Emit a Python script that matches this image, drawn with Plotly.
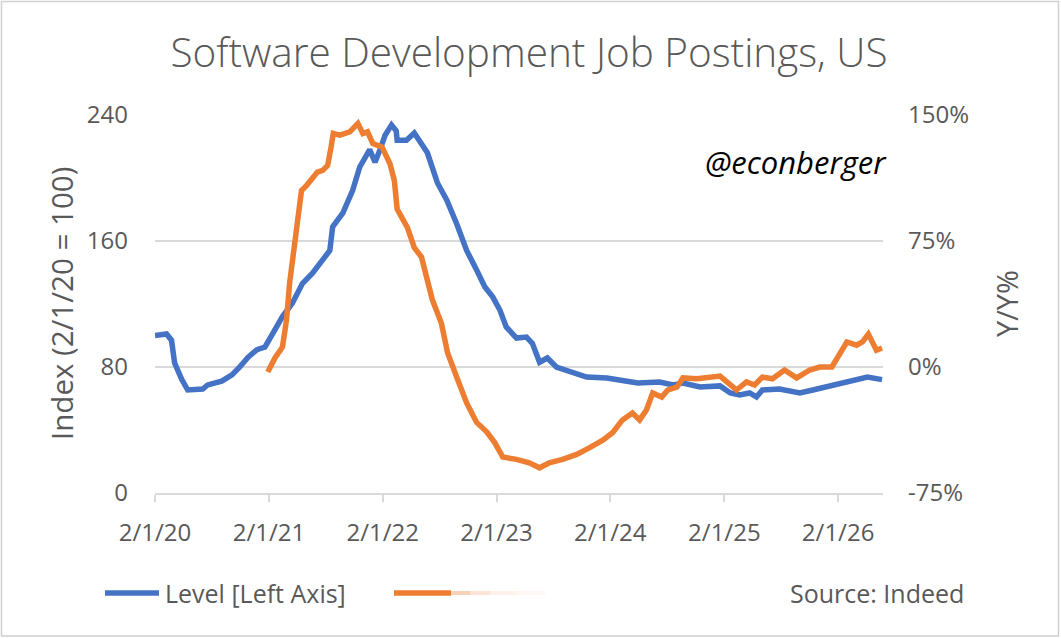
import plotly.graph_objects as go

# ---------------- data ----------------
level_dates = ["2020-02-01", "2020-03-09", "2020-03-25", "2020-04-04", "2020-04-27", "2020-05-16",
               "2020-07-03", "2020-07-19", "2020-09-02", "2020-10-05", "2020-10-30", "2020-11-25",
               "2020-12-24", "2021-01-19", "2021-02-14", "2021-03-16", "2021-04-17", "2021-05-19",
               "2021-06-21", "2021-07-23", "2021-08-15", "2021-08-24", "2021-09-26", "2021-10-27",
               "2021-11-19", "2021-12-21", "2022-01-07", "2022-01-23", "2022-02-08", "2022-03-01",
               "2022-03-16", "2022-03-19", "2022-04-18", "2022-05-13", "2022-06-05", "2022-06-24",
               "2022-07-26", "2022-08-25", "2022-09-26", "2022-10-28", "2022-11-29", "2022-12-25",
               "2023-01-20", "2023-02-12", "2023-03-04", "2023-04-06", "2023-05-08", "2023-05-27",
               "2023-06-19", "2023-07-14", "2023-08-12", "2023-09-24", "2023-11-17", "2024-01-21",
               "2024-03-11", "2024-04-29", "2024-07-08", "2024-08-20", "2024-09-21", "2024-11-15",
               "2025-01-18", "2025-02-20", "2025-03-22", "2025-04-23", "2025-05-15", "2025-06-03",
               "2025-07-28", "2025-08-30", "2025-10-01", "2025-11-12", "2025-12-27", "2026-02-07",
               "2026-03-19", "2026-05-06", "2026-06-22"]
level_values = [100, 101, 97, 82.5, 72, 65.4,
                66, 68.6, 71, 75, 80, 86,
                91, 92.7, 101.6, 112, 120.6, 133,
                139.7, 148, 154, 169, 177.8, 192,
                207, 218, 210, 218, 227, 233.7,
                230, 224, 224, 228.6, 222, 216,
                197, 186, 171, 154, 141.6, 131,
                124.4, 116, 105.4, 98.4, 99, 95,
                83, 85.7, 80, 76.8, 73.6, 73,
                71, 69.8, 70.5, 68.6, 69.8, 67.3,
                68, 63.5, 62.2, 63.5, 61, 65.4,
                66, 64.8, 63.5, 65.4, 67.3, 69.8,
                71, 73.6, 72.0]

yoy_dates = ["2021-01-28", "2021-02-20", "2021-03-16", "2021-03-29", "2021-04-08", "2021-04-24",
             "2021-05-06", "2021-05-16", "2021-06-01", "2021-06-21", "2021-07-06", "2021-07-23",
             "2021-08-08", "2021-08-19", "2021-08-26", "2021-09-16", "2021-10-18", "2021-11-13",
             "2021-11-29", "2021-12-14", "2021-12-31", "2022-01-29", "2022-02-24", "2022-03-10",
             "2022-03-19", "2022-04-21", "2022-05-13", "2022-06-05", "2022-06-21", "2022-07-10",
             "2022-08-08", "2022-08-28", "2022-09-26", "2022-10-28", "2022-11-29", "2023-01-01",
             "2023-01-26", "2023-02-21", "2023-04-06", "2023-05-17", "2023-06-19", "2023-07-20",
             "2023-09-01", "2023-10-16", "2023-11-27", "2024-01-08", "2024-02-09", "2024-03-11",
             "2024-04-12", "2024-04-29", "2024-05-05", "2024-05-27", "2024-06-16", "2024-07-15",
             "2024-08-03", "2024-09-02", "2024-09-21", "2024-11-05", "2024-12-07", "2025-01-18",
             "2025-02-13", "2025-03-12", "2025-04-13", "2025-05-09", "2025-06-03", "2025-07-05",
             "2025-08-13", "2025-09-21", "2025-11-02", "2025-12-04", "2026-01-12", "2026-02-07",
             "2026-03-01", "2026-04-01", "2026-04-20", "2026-05-09", "2026-06-04", "2026-06-22"]
yoy_values = [-3, 5.4, 11.9, 28, 50, 74,
              93.5, 105, 108, 113, 116, 117,
              120, 131, 139, 138, 140, 145,
              139, 140, 133, 131, 121, 111,
              94, 83, 71, 65.5, 53.6, 40,
              26, 8.3, -6, -21.4, -33, -38.7,
              -45, -53.6, -55, -57, -60, -57,
              -55, -52, -48, -43.5, -39, -31.5,
              -27.4, -30, -31.5, -25.6, -15.5, -17.9,
              -13.7, -11.9, -6.5, -7, -6.5, -5.4,
              -9.5, -13.7, -8.9, -10.7, -6, -7,
              -1.8, -6.5, -1.8, 0, 0, 8.3,
              14.9, 13, 15, 19.6, 10, 11.3]

tick_dates = ["2020-02-01", "2021-02-01", "2022-02-01", "2023-02-01",
              "2024-02-01", "2025-02-01", "2026-02-01"]
tick_labels = ["2/1/20", "2/1/21", "2/1/22", "2/1/23", "2/1/24", "2/1/25", "2/1/26"]
left_ticks = [0, 80, 160, 240]
right_ticks = [-75, 0, 75, 150]
right_labels = ["-75%", "0%", "75%", "150%"]

BLUE = "#4472C4"
ORANGE = "#ED7D31"
GREY = "#595959"
GRID = "#D9D9D9"
FONT = "Open Sans"

fig = go.Figure()
fig.add_trace(go.Scatter(x=level_dates, y=level_values, mode="lines",
                         name="Level [Left Axis]", line=dict(color=BLUE, width=5.5),
                         yaxis="y"))
fig.add_trace(go.Scatter(x=yoy_dates, y=yoy_values, mode="lines",
                         name="Y/Y%", line=dict(color=ORANGE, width=5.5),
                         yaxis="y2"))

# plot area in pixels: x 155..883, y 115..493 (figure 1061x638)
L, R, T, B = 155, 883, 115, 493
W, H = R - L, B - T


def px(x):
    return (x - L) / W


def py(y):
    return (B - y) / H


tickfont = dict(family=FONT, size=24, color=GREY, weight=400)

fig.update_layout(
    width=1061, height=638,
    margin=dict(l=L, r=1061 - R, t=T, b=638 - B),
    paper_bgcolor="white", plot_bgcolor="white",
    showlegend=False,
    font=dict(family=FONT, color=GREY, size=22),
    title=dict(text="Software Development Job Postings, US", x=529 / 1061, xref="container",
               y=1 - 53 / 638, yref="container", yanchor="middle", xanchor="center",
               font=dict(family=FONT, size=40.5, color=GREY, weight=300)),
    xaxis=dict(type="date", range=["2020-02-01", "2026-06-25"],
               tickvals=tick_dates, ticktext=tick_labels,
               showgrid=False, showline=True, linecolor=GRID, linewidth=1.5,
               ticks="outside", ticklen=7, tickcolor=GRID, tickwidth=1.5,
               ticklabelstandoff=10, tickfont=tickfont, zeroline=False),
    yaxis=dict(range=[0, 240], tickvals=left_ticks,
               showgrid=True, gridcolor=GRID, gridwidth=1.5,
               zeroline=False, showline=False, ticks="",
               ticklabelstandoff=26, tickfont=tickfont),
    yaxis2=dict(range=[-75, 150], tickvals=right_ticks, ticktext=right_labels,
                overlaying="y", side="right", showgrid=False, zeroline=False,
                showline=False, ticks="", ticklabelstandoff=24, tickfont=tickfont),
)

annotations = [
    dict(text="Index (2/1/20 = 100)", textangle=-90, x=px(61), y=py(303),
         xref="paper", yref="paper", showarrow=False, xanchor="center", yanchor="middle",
         font=dict(size=29.5, color=GREY, weight=400)),
    dict(text="Y/Y%", textangle=-90, x=px(1006), y=py(304),
         xref="paper", yref="paper", showarrow=False, xanchor="center", yanchor="middle",
         font=dict(size=29, color=GREY, weight=400)),
    dict(text="<i>@econberger</i>", x=px(889), y=py(162),
         xref="paper", yref="paper", showarrow=False, xanchor="right", yanchor="middle",
         font=dict(size=31, color="#000000", weight=400)),
    dict(text="Level [Left Axis]", x=px(163), y=py(593),
         xref="paper", yref="paper", showarrow=False, xanchor="left", yanchor="middle",
         font=dict(size=25, color=GREY, weight=400)),
    dict(text="Source: Indeed", x=px(966), y=py(593),
         xref="paper", yref="paper", showarrow=False, xanchor="right", yanchor="middle",
         font=dict(size=25, color=GREY, weight=400)),
]
fig.update_layout(annotations=annotations)

shapes = [
    # outer frame
    dict(type="rect", xref="paper", yref="paper", x0=px(1.5), x1=px(1058.5),
         y0=py(636), y1=py(1.5), line=dict(color="#D0D0D0", width=1.5), layer="below"),
    # legend keys
    dict(type="line", xref="paper", yref="paper", x0=px(105), x1=px(159),
         y0=py(593), y1=py(593), line=dict(color=BLUE, width=5.5)),
    dict(type="line", xref="paper", yref="paper", x0=px(394), x1=px(451),
         y0=py(593), y1=py(593), line=dict(color=ORANGE, width=5.5)),
]
# faded tail after the orange legend key (obscured label area)
fade_steps = [(451, 470, 0.35), (470, 490, 0.2), (490, 515, 0.1), (515, 545, 0.05)]
for a, b, op in fade_steps:
    shapes.append(dict(type="line", xref="paper", yref="paper", x0=px(a), x1=px(b),
                       y0=py(593), y1=py(593), line=dict(color=ORANGE, width=4), opacity=op))
fig.update_layout(shapes=shapes)

fig.write_html("out.html")
